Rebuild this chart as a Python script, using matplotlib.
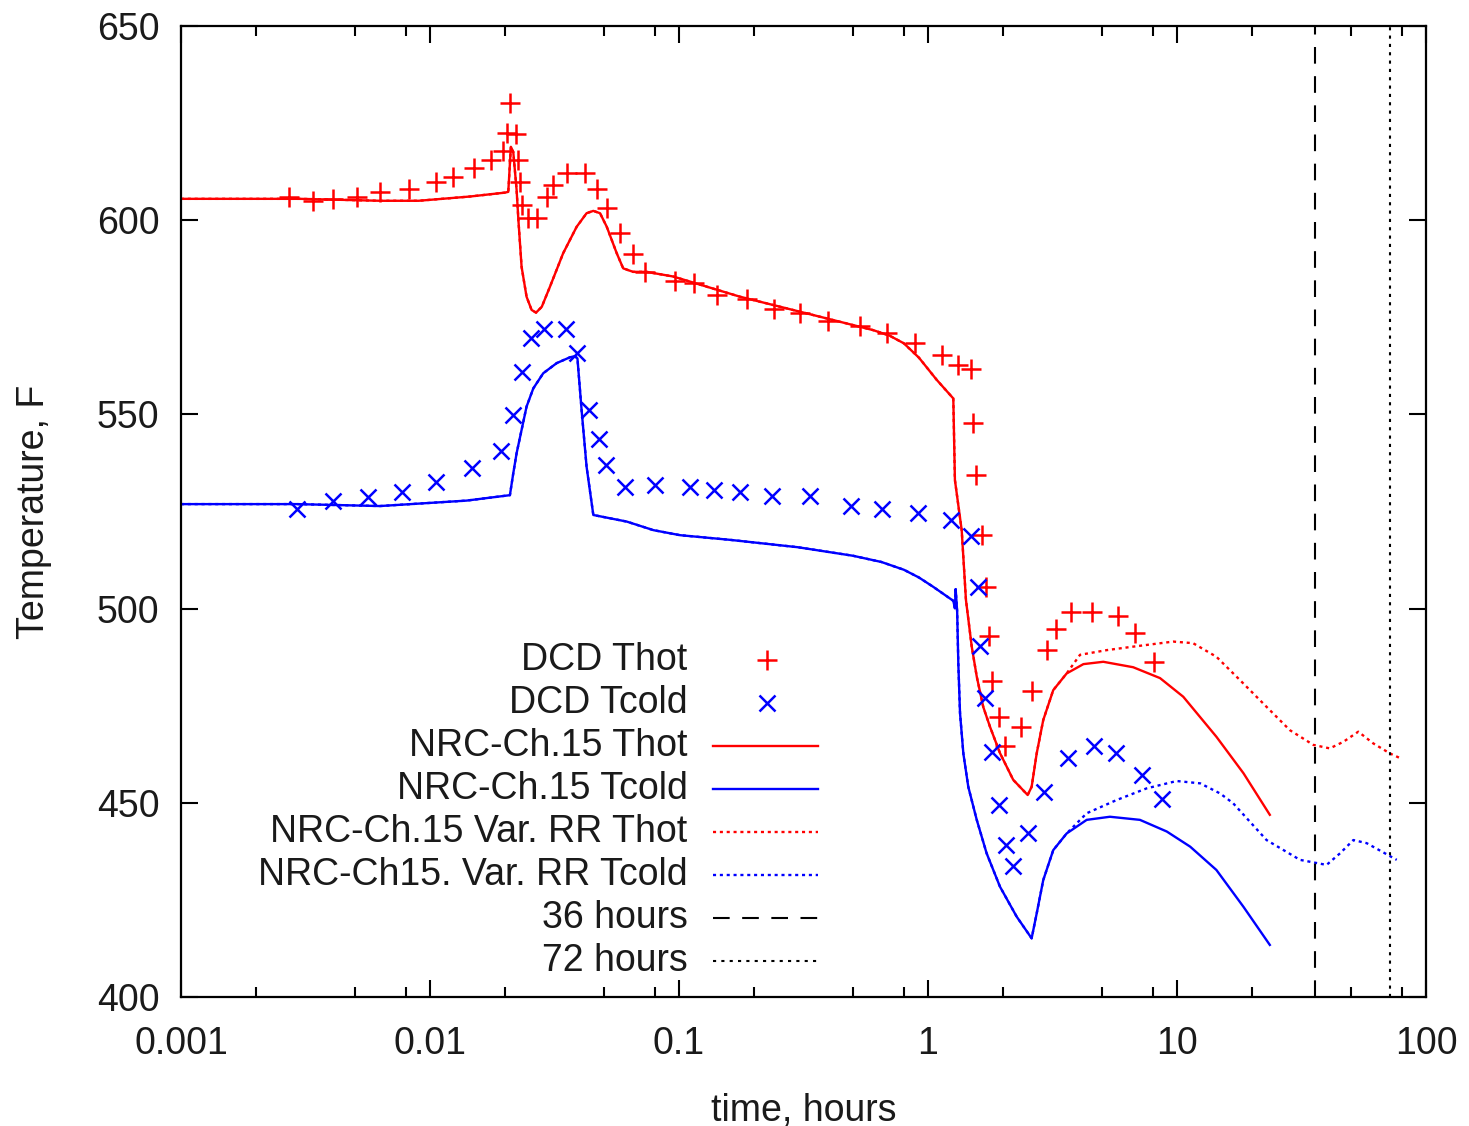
import numpy as np
import matplotlib
matplotlib.use("Agg")
import matplotlib.pyplot as plt
from matplotlib.ticker import LogLocator, FixedLocator, FixedFormatter, NullFormatter

plt.rcParams["font.family"] = ["Liberation Sans", "DejaVu Sans"]

# DCD hot-leg temperature (hours, F)
dcd_thot_t = [0.00272, 0.00340, 0.00406, 0.00508, 0.00631, 0.00826, 0.01057, 0.01233,
              0.01503, 0.01758, 0.01968, 0.02094, 0.02042, 0.02213, 0.02248, 0.02296,
              0.02333, 0.02483, 0.02685, 0.02944, 0.03126, 0.03540, 0.04188, 0.04667,
              0.05129, 0.05794, 0.06546, 0.07295, 0.0964, 0.1148, 0.1416, 0.1879,
              0.2410, 0.306, 0.398, 0.533, 0.682, 0.887, 1.135, 1.324, 1.482, 1.520,
              1.560, 1.644, 1.718, 1.762, 1.807, 1.923, 2.043, 2.356, 2.624, 2.998,
              3.266, 3.742, 4.54, 5.81, 6.78, 8.09]
dcd_thot = [605.9, 605.0, 605.5, 605.9, 607.3, 608.0, 609.9, 611.1,
            613.5, 615.4, 617.8, 630.3, 622.4, 622.2, 615.5, 609.8,
            603.9, 600.5, 600.5, 606.1, 609.1, 612.2, 612.2, 608.0,
            603.1, 596.8, 591.3, 586.7, 584.4, 583.8, 580.7, 579.6,
            577.1, 576.0, 574.1, 572.8, 570.9, 568.5, 565.3, 562.7, 561.7, 547.9,
            534.4, 518.9, 505.5, 492.9, 481.4, 472.0, 464.7, 469.6, 478.8, 489.3,
            494.7, 499.0, 499.0, 498.1, 493.6, 486.3]

# DCD cold-leg temperature (hours, F)
dcd_tcold_t = [0.00292, 0.00406, 0.00565, 0.00775, 0.01057, 0.01476, 0.01923, 0.02148,
               0.02333, 0.02547, 0.02871, 0.03508, 0.03911, 0.04365, 0.04767, 0.05093,
               0.06068, 0.0798, 0.1107, 0.1384, 0.1758, 0.2355, 0.336, 0.490, 0.652,
               0.910, 1.236, 1.489, 1.585, 1.618, 1.694, 1.807, 1.933, 2.056, 2.202,
               2.514, 2.931, 3.658, 4.66, 5.67, 7.26, 8.68]
dcd_tcold = [525.6, 527.7, 528.8, 530.1, 532.7, 536.3, 540.6, 549.8,
             561.0, 569.6, 571.9, 571.9, 565.9, 551.1, 543.6, 537.0,
             531.2, 531.9, 531.4, 530.5, 530.1, 529.0, 529.0, 526.4, 525.6,
             524.7, 522.8, 518.6, 505.6, 490.4, 476.9, 463.2, 449.3, 439.1, 433.7,
             442.3, 452.9, 461.5, 464.7, 462.7, 457.2, 451.0]

# NRC Ch.15 hot leg
nrc_thot_t = [0.001, 0.00301, 0.00630, 0.00900, 0.01449, 0.0200, 0.02063, 0.02113,
              0.02160, 0.02228, 0.02265, 0.02333, 0.02443, 0.02559, 0.02667, 0.02812,
              0.03034, 0.03427, 0.03882, 0.04256, 0.04529, 0.04820, 0.05129, 0.05623,
              0.0597, 0.06546, 0.0741, 0.0948, 0.1758, 0.326, 0.602, 0.70, 0.80,
              0.92, 1.084, 1.264, 1.283, 1.366, 1.421, 1.499, 1.570, 1.667, 1.774,
              1.946, 2.20, 2.514, 2.608, 2.733, 2.904, 3.185, 3.606, 4.21, 5.06,
              6.67, 8.55, 10.6, 14.4, 18.5, 23.6]
nrc_thot = [605.5, 605.5, 605.0, 605.0, 606.1, 607.1, 607.3, 618.9,
            617.6, 607.8, 600.1, 588.0, 580.3, 576.9, 576.2, 577.7,
            582.9, 591.5, 598.3, 601.8, 602.4, 601.8, 598.3, 591.5,
            587.6, 586.7, 586.7, 585.5, 580.3, 576.0, 571.7, 570.3, 568.3,
            564.6, 558.9, 554.1, 533.1, 520.2, 502.2, 490.2, 482.5, 474.7, 469.6,
            462.8, 455.9, 452.0, 454.1, 462.7, 471.3, 479.0, 483.3, 485.7, 486.3,
            484.9, 482.1, 477.3, 467.0, 457.6, 446.9]

# NRC Ch.15 cold leg
nrc_tcold_t = [0.001, 0.00292, 0.00629, 0.01402, 0.02094, 0.0216, 0.02228, 0.02333,
               0.02443, 0.02600, 0.02851, 0.03228, 0.03648, 0.0382, 0.03911, 0.04064,
               0.04256, 0.04529, 0.0617, 0.0789, 0.101, 0.1603, 0.30, 0.50, 0.65,
               0.80, 0.92, 1.05, 1.264, 1.283, 1.292, 1.31, 1.324, 1.345, 1.387,
               1.452, 1.570, 1.72, 1.946, 2.27, 2.608, 2.733, 2.904, 3.185, 3.606,
               4.34, 5.38, 7.10, 9.10, 11.3, 14.4, 18.5, 23.6]
nrc_tcold = [526.9, 526.9, 526.4, 527.8, 529.2, 534.8, 540.0, 546.0,
             552.0, 556.7, 560.6, 563.2, 564.7, 565.0, 564.4, 551.1,
             536.5, 524.1, 522.4, 520.2, 518.9, 517.7, 515.8, 513.6, 512.0,
             510.0, 508.0, 505.6, 502.0, 500.1, 505.0, 499.2, 485.9, 473.1, 462.7,
             454.1, 445.6, 437.0, 428.4, 420.7, 415.1, 421.5, 430.1, 437.8, 442.1,
             445.6, 446.4, 445.6, 442.6, 438.7, 432.7, 423.2, 413.4]

# variable reactivity runs: same as Ch.15 until ~3.6 h, then these
var_split = 3.65
var_thot_t = [4.08, 5.22, 6.67, 9.66, 11.6, 14.4, 17.9, 22.9, 28.4, 35.3, 41.1,
              46.6, 53.5, 61.4, 71.7, 78.7]
var_thot = [488.1, 489.3, 490.2, 491.5, 491.1, 487.6, 481.6, 474.7, 468.7, 464.9,
            464.0, 465.7, 468.3, 465.3, 462.7, 461.5]
var_tcold_t = [4.34, 5.72, 7.55, 9.97, 12.4, 14.9, 16.8, 22.9, 31.2, 39.9, 45.2,
               51.1, 57.8, 76.3]
var_tcold = [447.3, 450.7, 453.7, 455.6, 455.0, 452.4, 449.9, 440.4, 435.3, 434.0,
             437.0, 440.4, 439.6, 435.3]

hours_36 = 36
hours_72 = 72

x_major = [0.001, 0.01, 0.1, 1, 10, 100]
x_labels = ["0.001", "0.01", "0.1", "1", "10", "100"]
y_major = [400, 450, 500, 550, 600, 650]


def join_var(base_t, base_v, tail_t, tail_v):
    bt = np.array(base_t)
    bv = np.array(base_v)
    keep = bt < var_split
    return np.r_[bt[keep], tail_t], np.r_[bv[keep], tail_v]


fig = plt.figure(figsize=(14.69, 11.26), dpi=100)
ax = fig.add_axes([0.1232, 0.1146, 0.8475, 0.8623])

RED = "#ff0000"
BLUE = "#0000ff"
TXT = "#1a1a1a"
FS = 27
lw = 1.7
dot = (0, (1.3, 1.6))

vt, vv = join_var(nrc_thot_t, nrc_thot, var_thot_t, var_thot)
ax.plot(vt, vv, color=RED, lw=lw, ls=dot)
vt, vv = join_var(nrc_tcold_t, nrc_tcold, var_tcold_t, var_tcold)
ax.plot(vt, vv, color=BLUE, lw=lw, ls=dot)
ax.plot(nrc_thot_t, nrc_thot, color=RED, lw=lw)
ax.plot(nrc_tcold_t, nrc_tcold, color=BLUE, lw=lw)
ax.plot(dcd_thot_t, dcd_thot, ls="none", marker="+", ms=14, mew=1.8, color=RED)
ax.plot(dcd_tcold_t, dcd_tcold, ls="none", marker="x", ms=11, mew=1.8, color=BLUE)
ax.axvline(hours_36, color="black", lw=1.5, ls=(0, (8, 6)))
ax.axvline(hours_72, color="black", lw=1.5, ls=(0, (1.5, 2.5)))

ax.set_xscale("log")
ax.set_xlim(0.001, 100)
ax.set_ylim(400, 650)
ax.xaxis.set_major_locator(FixedLocator(x_major))
ax.xaxis.set_major_formatter(FixedFormatter(x_labels))
ax.xaxis.set_minor_locator(LogLocator(base=10, subs=[2, 5, 8]))
ax.xaxis.set_minor_formatter(NullFormatter())
ax.set_yticks(y_major)
ax.tick_params(which="both", direction="in", top=True, right=True,
               labelsize=FS, color="black", labelcolor=TXT, width=1.5)
ax.tick_params(axis="x", which="both", pad=21)
ax.tick_params(axis="y", which="both", pad=15.5)
ax.tick_params(which="major", length=12)
ax.tick_params(which="minor", length=7)
for s in ax.spines.values():
    s.set_linewidth(1.6)

ax.set_xlabel("time, hours", fontsize=FS, color=TXT, labelpad=22)
ax.set_ylabel("Temperature, F", fontsize=FS, color=TXT, labelpad=32)

# gnuplot-style key: right-justified text with samples to the right
key_rows = [
    ("DCD Thot", dict(ls="none", marker="+", ms=14, mew=1.8, color=RED)),
    ("DCD Tcold", dict(ls="none", marker="x", ms=11, mew=1.8, color=BLUE)),
    ("NRC-Ch.15 Thot", dict(color=RED, lw=lw)),
    ("NRC-Ch.15 Tcold", dict(color=BLUE, lw=lw)),
    ("NRC-Ch.15 Var. RR Thot", dict(color=RED, lw=lw, ls=dot)),
    ("NRC-Ch15. Var. RR Tcold", dict(color=BLUE, lw=lw, ls=dot)),
    ("36 hours", dict(color="black", lw=1.5, ls=(0, (8, 6)))),
    ("72 hours", dict(color="black", lw=1.5, ls=(0, (1.5, 2.5)))),
]
y0, dy = 0.347, 0.0443
for i, (label, style) in enumerate(key_rows):
    y = y0 - i * dy
    ax.text(0.407, y, label, transform=ax.transAxes, ha="right", va="center",
            fontsize=FS, color=TXT)
    if style.get("ls") == "none":
        ax.plot([0.471], [y], transform=ax.transAxes, clip_on=False, **style)
    else:
        ax.plot([0.427, 0.512], [y, y], transform=ax.transAxes, **style)

fig.savefig("out.png", dpi=100)
